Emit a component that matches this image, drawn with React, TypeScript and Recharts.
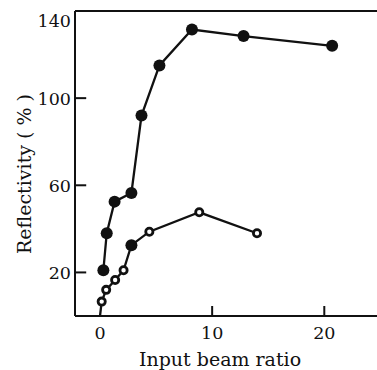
import React from "react";
import { LineChart, Line, XAxis, YAxis, ReferenceLine } from "recharts";

// upper curve (filled markers)
const upperRatio = [0.3, 0.6, 1.3, 2.8, 3.7, 5.3, 8.2, 12.8, 20.7];
const upperReflectivity = [21, 38, 52.5, 56.5, 92, 115, 131.5, 128.5, 124];

// lower curve (open markers; starts from the origin)
const lowerRatio = [0, 0.15, 0.55, 1.35, 2.1, 2.8, 4.4, 8.85, 14.0];
const lowerReflectivity = [0, 6.6, 12, 16.5, 21, 32.5, 38.7, 47.6, 38];

const yTicks = [20, 60, 100, 140];
const xTicks = [0, 10, 20];
// inward tick marks (the 140 one merges with the frame, none at x = 0)
const yMarks = [20, 60, 100];
const xMarks = [10, 20];

const upperData = upperRatio.map((x, i) => ({ ratio: x, refl: upperReflectivity[i] }));
const lowerData = lowerRatio.map((x, i) => ({ ratio: x, refl: lowerReflectivity[i] }));

const X_MIN = -2.23;
const X_MAX = 24.7;
const Y_MAX = 140;
const Y_MARK_LEN = 1.0; // in x units (~11px)
const X_MARK_LEN = 4.6; // in y units (~10px)

const FONT = "DejaVu Serif, Liberation Serif, serif";
const INK = "#111";
// the one solid marker sitting on the lower curve
const LOWER_SOLID_INDEX = 5;

const YTick = (props: any) => {
  const x = Number(props.x);
  const y = Number(props.y);
  const v = props.payload.value;
  return (
    <text
      x={x - 4}
      y={v === 140 ? y + 10 : y + 1}
      textAnchor="end"
      dominantBaseline="central"
      fontFamily={FONT}
      fontSize={17.5}
      fill={INK}
    >
      {v}
    </text>
  );
};

const XTick = (props: any) => {
  const x = Number(props.x);
  const y = Number(props.y);
  return (
    <text x={x} y={y + 23} textAnchor="middle" fontFamily={FONT} fontSize={17.5} fill={INK}>
      {props.payload.value}
    </text>
  );
};

const SolidDot = ({ cx, cy, index }: any) => (
  <circle key={`u-${index}`} cx={cx} cy={cy} r={6} fill={INK} stroke="none" />
);

const OpenDot = ({ cx, cy, index, payload }: any) => {
  if (payload.refl === 0) return <g key={`l-${index}`} />;
  if (index === LOWER_SOLID_INDEX)
    return <circle key={`l-${index}`} cx={cx} cy={cy} r={6} fill={INK} stroke="none" />;
  return <circle key={`l-${index}`} cx={cx} cy={cy} r={3.6} fill="#fff" stroke={INK} strokeWidth={2.8} />;
};

export default function App() {
  return (
    <div style={{ width: 377, height: 370, background: "#fff" }}>
      <style>{"body{margin:0}"}</style>
      <LineChart width={377} height={370} margin={{ top: 11, right: 0, bottom: 24, left: 0 }}>
        <XAxis
          type="number"
          dataKey="ratio"
          domain={[X_MIN, X_MAX]}
          ticks={xTicks}
          allowDataOverflow
          height={30}
          tickSize={0}
          tickMargin={0}
          tick={XTick}
          axisLine={{ stroke: INK, strokeWidth: 2 }}
          tickLine={false}
          label={{
            content: () => (
              <text x={220} y={366} textAnchor="middle" fontFamily={FONT} fontSize={19} fill={INK}>
                Input beam ratio
              </text>
            ),
          }}
        />
        <YAxis
          type="number"
          dataKey="refl"
          domain={[0, Y_MAX]}
          ticks={yTicks}
          allowDataOverflow
          width={75}
          tickSize={0}
          tickMargin={0}
          tick={YTick}
          axisLine={{ stroke: INK, strokeWidth: 2 }}
          tickLine={false}
          label={{
            content: () => (
              <text
                x={24}
                y={174}
                transform="rotate(-90 24 174)"
                textAnchor="middle"
                dominantBaseline="central"
                fontFamily={FONT}
                fontSize={19}
                fill={INK}
              >
                Reflectivity ( % )
              </text>
            ),
          }}
        />
        <ReferenceLine y={Y_MAX} stroke={INK} strokeWidth={2} />
        {yMarks.map((v) => (
          <ReferenceLine
            key={`ym-${v}`}
            segment={[{ x: X_MIN, y: v }, { x: X_MIN + Y_MARK_LEN, y: v }]}
            stroke={INK}
            strokeWidth={2}
            ifOverflow="visible"
          />
        ))}
        {xMarks.map((v) => (
          <ReferenceLine
            key={`xm-${v}`}
            segment={[{ x: v, y: 0 }, { x: v, y: X_MARK_LEN }]}
            stroke={INK}
            strokeWidth={2}
            ifOverflow="visible"
          />
        ))}
        <Line
          data={upperData}
          dataKey="refl"
          type="linear"
          stroke={INK}
          strokeWidth={2.3}
          dot={SolidDot}
          isAnimationActive={false}
        />
        <Line
          data={lowerData}
          dataKey="refl"
          type="linear"
          stroke={INK}
          strokeWidth={2.3}
          dot={OpenDot}
          isAnimationActive={false}
        />
      </LineChart>
    </div>
  );
}
